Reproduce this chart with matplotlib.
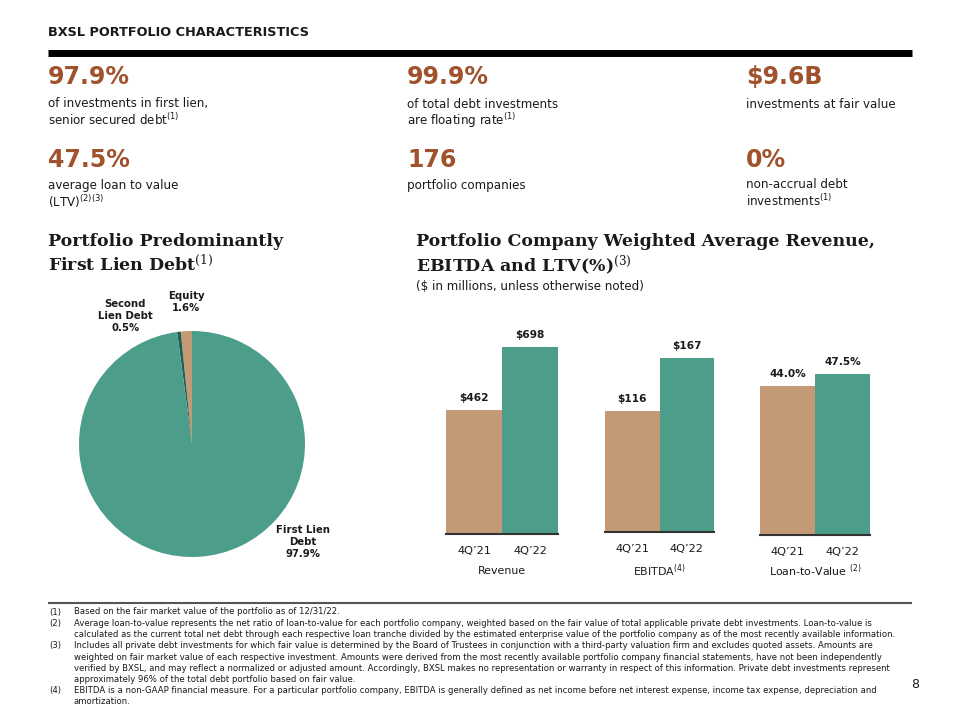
import matplotlib.pyplot as plt
from matplotlib import font_manager
from matplotlib.lines import Line2D

# ---- data ----
header = 'BXSL PORTFOLIO CHARACTERISTICS'
metric_values = ['97.9%', '99.9%', '$9.6B', '47.5%', '176', '0%']
metric_notes = [
    ['of investments in first lien,', 'senior secured debt$^{(1)}$'],
    ['of total debt investments', 'are floating rate$^{(1)}$'],
    ['investments at fair value'],
    ['average loan to value', '(LTV)$^{(2)(3)}$'],
    ['portfolio companies'],
    ['non-accrual debt', 'investments$^{(1)}$'],
]

pie_names = ['Equity', 'Second\nLien Debt', 'First Lien\nDebt']
pie_shares = [1.6, 0.5, 97.9]

periods = ['4Q’21', '4Q’22']
group_names = ['Revenue', 'EBITDA$^{(4)}$', 'Loan-to-Value $^{(2)}$']
revenue = [462, 698]
ebitda = [116, 167]
ltv = [44.0, 47.5]

footnotes = [
    ('(1)', ['Based on the fair market value of the portfolio as of 12/31/22.']),
    ('(2)', ['Average loan-to-value represents the net ratio of loan-to-value for each portfolio company, weighted based on the fair value of total applicable private debt investments. Loan-to-value is',
             'calculated as the current total net debt through each respective loan tranche divided by the estimated enterprise value of the portfolio company as of the most recently available information.']),
    ('(3)', ['Includes all private debt investments for which fair value is determined by the Board of Trustees in conjunction with a third-party valuation firm and excludes quoted assets. Amounts are',
             'weighted on fair market value of each respective investment. Amounts were derived from the most recently available portfolio company financial statements, have not been independently',
             'verified by BXSL, and may reflect a normalized or adjusted amount. Accordingly, BXSL makes no representation or warranty in respect of this information. Private debt investments represent',
             'approximately 96% of the total debt portfolio based on fair value.']),
    ('(4)', ['EBITDA is a non-GAAP financial measure. For a particular portfolio company, EBITDA is generally defined as net income before net interest expense, income tax expense, depreciation and',
             'amortization.']),
]

# ---- style ----
TEAL = '#4c9e8a'
TAN = '#c49a76'
DARK_TEAL = '#1e5e50'
BROWN = '#a0522d'
INK = '#1a1a1a'

installed = {f.name for f in font_manager.fontManager.ttflist}
if 'Liberation Sans Narrow' in installed:
    narrow, note_size = 'Liberation Sans Narrow', 7.75
else:
    narrow, note_size = 'DejaVu Sans', 6.1

plt.rcParams['font.family'] = 'DejaVu Sans'

W, H = 960, 720
fig = plt.figure(figsize=(W / 100, H / 100), dpi=100)


def put(x, y, s, **kw):
    # place text using pixel coords measured from the top-left corner
    kw.setdefault('va', 'center')
    kw.setdefault('color', INK)
    return fig.text(x / W, 1 - y / H, s, **kw)


def hline(x0, x1, y, lw, color):
    fig.add_artist(Line2D([x0 / W, x1 / W], [1 - y / H, 1 - y / H],
                          transform=fig.transFigure, lw=lw, color=color,
                          solid_capstyle='butt'))


# header
put(48, 33, header, fontsize=9.3, fontweight='bold')
hline(48, 912, 52.5, 5.0, 'black')

# key metrics
cols = [48, 407, 746]
rows = [(77, 104), (160, 185)]
for i, (val, lines) in enumerate(zip(metric_values, metric_notes)):
    x = cols[i % 3]
    y_big, y_txt = rows[i // 3]
    put(x, y_big, val, fontsize=17, fontweight='bold', color=BROWN)
    for j, line in enumerate(lines):
        put(x, y_txt + j * 16.5, line, fontsize=8.6)

# section titles
serif = dict(family='DejaVu Serif', fontweight='bold', fontsize=12.5,
             math_fontfamily='dejavuserif')
put(48, 242, 'Portfolio Predominantly', **serif)
put(48, 265, 'First Lien Debt$^{(1)}$', **serif)
put(416, 242, 'Portfolio Company Weighted Average Revenue,', **serif)
put(416, 265, 'EBITDA and LTV(%)$^{(3)}$', **serif)
put(416, 287, '($ in millions, unless otherwise noted)', fontsize=8.6)

# ---- pie ----
ax_pie = fig.add_axes([79 / W, 1 - 557 / H, 226 / W, 226 / H])
ax_pie.pie(pie_shares, colors=[TAN, DARK_TEAL, TEAL], startangle=90,
           counterclock=True, radius=1, wedgeprops=dict(linewidth=0))
ax_pie.set_xlim(-1, 1)
ax_pie.set_ylim(-1, 1)
label_pos = [(-0.05, 1.26), (-0.59, 1.13), (0.98, -0.87)]
for name, share, (lx, ly) in zip(pie_names, pie_shares, label_pos):
    ax_pie.text(lx, ly, f'{name}\n{share:.1f}%', ha='center', va='center',
                fontsize=7.3, fontweight='bold', color=INK, linespacing=1.25,
                clip_on=False)

# ---- bars: one small axes per metric, each with its own scale ----
series = [revenue, ebitda, ltv]
fmts = ['${:.0f}', '${:.0f}', '{:.1f}%']
boxes = [(446, 558, 534), (605, 714, 532), (760, 870, 535)]  # left, right, baseline px
y_tops = [895, 230, 70.8]
for vals, fmt, (x0, x1, base), top, name in zip(series, fmts, boxes, y_tops, group_names):
    ax = fig.add_axes([x0 / W, 1 - base / H, (x1 - x0) / W, 240 / H])
    bars = ax.bar(range(len(vals)), vals, width=1.0, color=[TAN, TEAL], linewidth=0)
    for b, v in zip(bars, vals):
        ax.annotate(fmt.format(v), (b.get_x() + b.get_width() / 2, v),
                    xytext=(0, 8.5), textcoords='offset points',
                    ha='center', va='center', fontsize=7.6,
                    fontweight='bold', color=INK)
    ax.set_xlim(-0.5, len(vals) - 0.5)
    ax.set_ylim(0, top)
    ax.set_yticks([])
    ax.set_xticks(range(len(periods)), periods)
    ax.tick_params(axis='x', length=0, pad=8.5, labelsize=8.2, labelcolor=INK)
    for s in ['top', 'left', 'right']:
        ax.spines[s].set_visible(False)
    ax.spines['bottom'].set_color('#333333')
    ax.spines['bottom'].set_linewidth(1.5)
    ax.patch.set_alpha(0)
    put((x0 + x1) / 2, 571, name, fontsize=7.9, ha='center')

# ---- footnotes ----
hline(48, 912, 602.5, 1.5, '#555555')
y = 612
for tag, lines in footnotes:
    put(49, y, tag, family=[narrow, 'DejaVu Sans'], fontsize=note_size)
    for line in lines:
        put(74, y, line, family=[narrow, 'DejaVu Sans'], fontsize=note_size)
        y += 11.25
put(915, 684, '8', family=[narrow, 'DejaVu Sans'], fontsize=9, ha='center')

fig.savefig('out.png', dpi=100)
